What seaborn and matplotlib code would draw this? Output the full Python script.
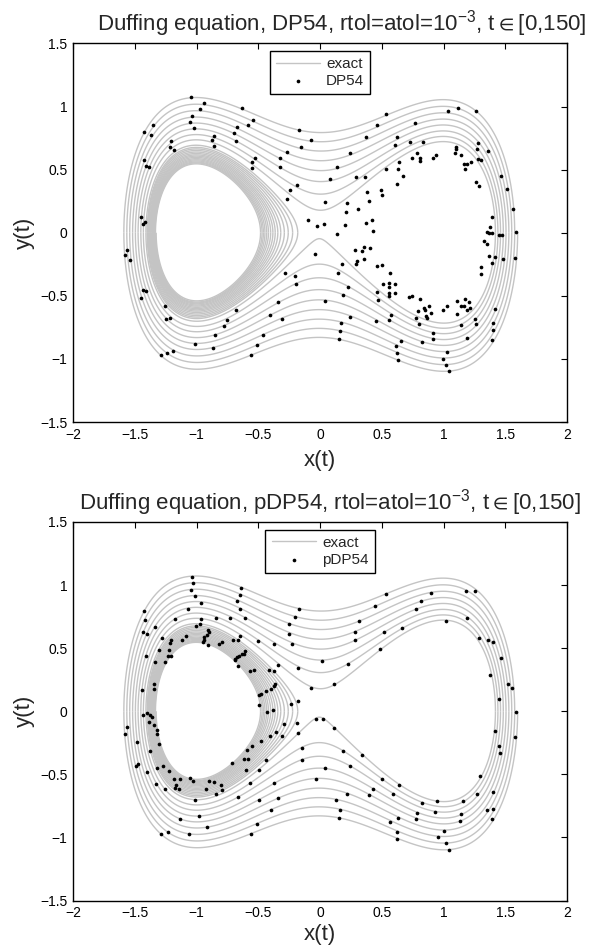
import numpy as np
import matplotlib
matplotlib.use('Agg')
import matplotlib.pyplot as plt
import seaborn as sns

# energy H = y^2/2 - x^2/2 + x^4/4 of each half-pass of the exact trajectory,
# read from where the pass crosses x=0 (x=-1 inside the left well), in time order
lower_levels = [0.344, 0.287, 0.234, 0.185, 0.141, 0.102, 0.063, 0.0305, 0.0013,
                -0.018, -0.026, -0.034, -0.042, -0.050, -0.057, -0.063, -0.069,
                -0.075, -0.081, -0.086, -0.091, -0.095, -0.099, -0.104]
upper_levels = [0.315, 0.26, 0.21, 0.163, 0.121, 0.082, 0.047, 0.016,
                -0.014, -0.022, -0.030, -0.038, -0.046, -0.053, -0.060, -0.066,
                -0.072, -0.078, -0.083, -0.088, -0.093, -0.097, -0.101]

# DP54 output points (top panel)
dp54_x = [-1.041, -0.941, -0.968, -0.635, -1.351, -1.424, -1.365, -1.038, -1.051, -1.019,
          -0.546, -0.586, -0.697, -0.676, -0.681, -0.168, -0.073, -0.151, -1.203, -1.211,
          -1.186, -0.876, -0.862, -0.862, -1.427, -1.411, -1.386, -0.527, -0.554, -0.554,
          -0.270, -0.322, -0.322, -0.186, -0.240, -0.268, -1.451, -1.419, -1.435, -0.095,
          -0.024,
          0.538, 0.459, 0.370, 0.243, 0.135, 0.081, 0.038, 0.035, 0.140, 0.200,
          0.216, 0.211, 0.289, 0.365, 0.311, 0.384, 0.400, 0.370, 0.421, 0.432,
          0.492, 0.505, 0.538, 0.624, 0.635, 0.638, 0.670, 0.610, 0.627, 0.732,
          0.770, 0.743, 0.789, 0.808, 0.810, 0.832, 0.913, 0.940, 1.037, 1.116,
          1.259, 1.089, 1.100, 1.102, 1.140, 1.164, 1.194, 1.175, 1.224, 1.280,
          1.272, 1.278, 1.307, 1.361, 1.259, 1.291, 1.467, 1.515, 1.559, 1.391,
          1.378, 1.351, 1.372, 1.391, 1.448, 1.470, 1.586,
          -1.583, -1.561, -1.537, -1.437, -1.410, -1.451, -1.259, -1.251, -1.213, -1.286,
          -1.240, -1.189, -1.016, -0.867, -0.851, -0.781, -0.751, -0.678, -0.559, -0.513,
          -0.459, -0.405, -0.338, -0.305, -0.284, -0.205, -0.194, -0.040,
          0.281, 0.354, 0.340, 0.405, 0.359, 0.300, 0.289, 0.176, 0.149, 0.038,
          0.224, 0.186, 0.246, 0.173, 0.165, 0.151, 0.465, 0.502, 0.565, 0.508,
          0.562, 0.562, 0.610, 0.465, 0.562, 0.605, 0.562, 0.470, 0.457, 0.562,
          0.573, 0.659, 0.616, 0.621, 0.629, 0.719, 0.746, 0.813, 0.797, 0.840,
          0.848, 0.883, 0.897, 0.862, 0.864, 0.781, 0.802, 0.829, 0.916, 0.918,
          0.999, 1.026, 0.997, 1.026, 1.021, 1.048, 1.108, 1.108, 1.140, 1.143,
          1.164, 1.175, 1.189, 1.210, 1.218, 1.194, 1.251, 1.267, 1.302, 1.302,
          1.326, 1.356, 1.370, 1.394, 1.418, 1.483, 1.578, 1.413, 1.397, 1.399,
          1.394]
dp54_y = [1.072, 1.025, 0.977, 0.985, 0.853, 0.800, 0.771, 0.922, 0.874, 0.827,
          0.890, 0.853, 0.792, 0.835, 0.729, 0.814, 0.737, 0.679, 0.729, 0.681,
          0.658, 0.737, 0.763, 0.689, 0.576, 0.526, 0.518, 0.592, 0.563, 0.512,
          0.639, 0.589, 0.518, 0.380, 0.335, 0.264, 0.121, 0.085, 0.069, 0.103,
          0.055,
          0.943, 0.853, 0.755, 0.629, 0.518, 0.423, 0.243, 0.071, -0.011, 0.058,
          0.232, 0.164, 0.444, 0.438, 0.190, 0.322, 0.251, 0.079, 0.098, 0.013,
          0.338, 0.301, 0.507, 0.386, 0.507, 0.560, 0.449, 0.692, 0.755, 0.716,
          0.866, 0.589, 0.629, 0.589, 0.568, 0.716, 0.589, 0.615, 0.961, 0.990,
          0.964, 0.629, 0.681, 0.660, 0.615, 0.544, 0.544, 0.502, 0.563, 0.708,
          0.666, 0.581, 0.573, 0.650, 0.399, 0.372, 0.449, 0.346, 0.190, 0.127,
          0.045, 0.003, -0.005, 0.000, -0.021, -0.018, 0.003,
          -0.179, -0.134, -0.214, -0.451, -0.459, -0.515, -0.583, -0.681, -0.676, -0.972,
          -0.956, -0.935, -0.879, -0.914, -0.811, -0.742, -0.689, -0.610, -0.966, -0.893,
          -0.813, -0.655, -0.552, -0.681, -0.317, -0.343, -0.409, -0.171,
          -0.137, -0.113, -0.148, -0.121, -0.211, -0.224, -0.251, -0.248, -0.322, -0.539,
          -0.433, -0.496, -0.671, -0.716, -0.779, -0.842, -0.264, -0.259, -0.317, -0.409,
          -0.401, -0.428, -0.409, -0.473, -0.481, -0.478, -0.502, -0.533, -0.697, -0.694,
          -0.650, -0.858, -0.895, -0.953, -1.009, -0.512, -0.499, -0.523, -0.618, -0.594,
          -0.613, -0.581, -0.639, -0.660, -0.679, -0.679, -0.726, -0.866, -0.795, -0.840,
          -0.610, -0.584, -1.002, -0.948, -1.046, -1.093, -0.544, -0.642, -0.734, -0.584,
          -0.584, -0.526, -0.610, -0.552, -0.599, -0.837, -0.684, -0.724, -0.269, -0.327,
          -0.063, -0.092, -0.182, -0.243, -0.193, -0.208, -0.198, -0.607, -0.716, -0.774,
          -0.850]

# pDP54 output points (bottom panel)
pdp54_x = [-1.040, -1.029, -1.045, -1.013, -1.067, -0.962, -0.637, -0.646, -0.670, -0.648,
           -0.608, -0.727, -0.840, -0.967, -0.972, -1.002, -1.175, -1.424, -1.418, -1.432,
           -1.402, -1.337, -1.408, -1.280, -1.307, -1.337, -1.253, -1.210, -1.213, -1.221,
           -1.229, -1.210, -1.089, -1.116, -0.908, -0.900, -0.916, -0.940, -0.937, -0.951,
           -0.905, -0.821, -0.794, -0.702, -0.664, -0.646, -0.505, -0.370, -0.608, -0.616,
           -0.629, -0.656, -0.675, -0.691, -0.689, -0.662, -0.570, -0.532, -0.416, -0.375,
           -0.338, -0.365, -0.375, -0.400, -0.440, -0.478, -0.494, -0.249, -0.251, -0.224,
           -0.200, -0.167, -0.176, -0.076, -1.442, -1.343, -1.345,
           -0.494, -0.427, -0.378, -0.232, -0.181, -0.035, -0.184, -0.176, -0.292, -0.305,
           -0.359, -0.405, -0.481, -0.554, -0.592, -0.581, -0.616, -0.713, -0.597, -0.494,
           -0.440, -0.567, -0.667, -1.580, -1.559, -1.432, -1.399, -1.378, -1.364, -1.386,
           -1.343, -1.318, -1.321, -1.302, -1.375, -1.480, -1.491, -1.470, -1.399, -1.316,
           -1.272, -1.221, -1.324, -1.256, -1.180, -1.135, -1.164, -1.175, -1.143, -1.056,
           -1.029, -1.016, -0.927, -0.902, -0.859, -0.840, -0.800, -0.797, -1.132, -0.981,
           -0.916, -1.289, -1.234, -1.064, -0.562, -0.508, -0.494, -0.400, -0.338, -0.370,
           -0.146, -0.146, -0.032,
           0.538, 0.448, 0.316, 0.281, 0.284, 0.516, 0.486, 0.665, 0.781, 0.816,
           0.902, 1.021, 1.178, 1.253, 1.191, 1.289, 1.361, 1.399, 1.464, 1.375,
           1.526, 1.553, 1.448, 0.224, 0.019, 0.111,
           1.586, 1.418, 1.448, 1.461, 1.578, 0.022, 0.113, 0.186, 0.338, 0.038,
           0.246, 0.500, 0.640, 0.427, 0.219, 0.397, 0.589, 0.127, 0.165, 0.151,
           0.570, 0.632, 0.621, 0.627, 0.827, 0.948, 0.786, 0.929, 0.775, 1.002,
           0.959, 1.018, 1.048, 1.159, 1.140, 1.137, 1.275, 1.294, 1.397, 1.356,
           1.397, 1.394]
pdp54_y = [1.067, 1.014, 0.961, 0.911, 0.814, 0.861, 0.975, 0.922, 0.877, 0.814,
           0.737, 0.742, 0.742, 0.732, 0.695, 0.676, 0.732, 0.795, 0.726, 0.626,
           0.615, 0.666, 0.436, 0.584, 0.483, 0.391, 0.388, 0.563, 0.544, 0.489,
           0.438, 0.436, 0.597, 0.563, 0.642, 0.626, 0.608, 0.589, 0.563, 0.549,
           0.523, 0.536, 0.549, 0.568, 0.563, 0.597, 0.557, 0.534, 0.478, 0.457,
           0.452, 0.438, 0.431, 0.415, 0.404, 0.359, 0.322, 0.328, 0.325, 0.317,
           0.365, 0.217, 0.201, 0.174, 0.158, 0.140, 0.127, 0.689, 0.615, 0.531,
           0.745, 0.808, 0.346, 0.185, 0.172, 0.174, 0.219,
           0.053, -0.003, 0.013, 0.058, 0.079, -0.058, -0.090, -0.174, -0.098, -0.195,
           -0.164, -0.193, -0.232, -0.272, -0.306, -0.380, -0.375, -0.409, -0.468, -0.462,
           -0.388, -0.568, -0.681, -0.182, -0.124, -0.026, -0.011, -0.026, -0.045, -0.087,
           -0.108, -0.151, -0.182, -0.261, -0.312, -0.246, -0.436, -0.417, -0.481, -0.446,
           -0.438, -0.475, -0.578, -0.618, -0.539, -0.539, -0.581, -0.605, -0.618, -0.531,
           -0.549, -0.705, -0.613, -0.549, -0.563, -0.658, -0.581, -0.621, -0.856, -0.829,
           -0.919, -0.975, -0.959, -0.975, -0.972, -0.890, -0.700, -0.779, -0.687, -0.568,
           -0.288, -0.383, -0.534,
           0.930, 0.832, 0.713, 0.629, 0.563, 0.629, 0.491, 0.660, 0.811, 0.872,
           0.940, 0.716, 0.951, 0.956, 0.737, 0.578, 0.563, 0.549, 0.425, 0.291,
           0.219, 0.188, 0.100, 0.375, 0.399, 0.214,
           -0.005, -0.153, -0.275, -0.333, -0.203, -0.061, -0.135, -0.317, -0.346, -0.452,
           -0.438, -0.541, -0.586, -0.618, -0.655, -0.666, -0.658, -0.700, -0.779, -0.845,
           -0.874, -0.843, -0.954, -1.014, -0.726, -0.713, -0.803, -0.795, -0.851, -0.946,
           -0.993, -1.046, -1.099, -0.711, -0.816, -0.866, -0.655, -0.515, -0.639, -0.779,
           -0.777, -0.856]

titles = [r'Duffing equation, DP54, rtol=atol=10$^{-3}$, t$\in$[0,150]',
          r'Duffing equation, pDP54, rtol=atol=10$^{-3}$, t$\in$[0,150]']
method_names = ['DP54', 'pDP54']
title_x = [0.543, 0.52]

line_gray = '#c4c4c4'
xticks = [-2, -1.5, -1, -0.5, 0, 0.5, 1, 1.5, 2]
yticks = [-1.5, -1, -0.5, 0, 0.5, 1, 1.5]

# half-passes in time order: lower, upper, lower, ...
pass_levels = []
for i in range(len(lower_levels)):
    pass_levels.append(lower_levels[i])
    if i < len(upper_levels):
        pass_levels.append(upper_levels[i])

# energy where consecutive passes meet on y=0
junctions = ([pass_levels[0] + (pass_levels[0] - pass_levels[1]) / 2]
             + [(a + b) / 2 for a, b in zip(pass_levels[:-1], pass_levels[1:])]
             + [pass_levels[-1] - (pass_levels[-2] - pass_levels[-1]) / 2])


def outer_x(J):
    return np.sqrt(1 + np.sqrt(1 + 4 * J))


def nose_x(J):
    return np.sqrt(1 - np.sqrt(1 + 4 * J))


grids = {}
for key, xs in (('full', np.linspace(-2, 2, 1400)), ('left', np.linspace(-2, 0, 800))):
    for half, ys in (('up', np.linspace(0, 1.5, 520)), ('down', np.linspace(-1.5, 0, 520))):
        X, Y = np.meshgrid(xs, ys)
        grids[(key, half)] = (X, Y, 0.5 * Y ** 2 - 0.5 * X ** 2 + 0.25 * X ** 4)


def draw_exact(ax):
    # each half-pass is the level set of H with its level sliding linearly in x
    # between the junction energies, so the passes join into one spiral
    for i in range(len(pass_levels)):
        js, je = junctions[i], junctions[i + 1]
        if i % 2 == 0:  # lower pass, moving left
            xs_ = outer_x(js) if js > 0 else -nose_x(js)
            xe_ = -outer_x(je)
            half = 'down'
        else:           # upper pass, moving right
            xs_ = -outer_x(js)
            xe_ = outer_x(je) if je > 0 else -nose_x(je)
            half = 'up'
        key = 'full' if max(xs_, xe_) > 0 else 'left'
        X, Y, H = grids[(key, half)]
        lev = js + (je - js) * (X - xs_) / (xe_ - xs_)
        ax.contour(X, Y, H - lev, levels=[0], colors=[line_gray], linewidths=1.0,
                   linestyles='solid')


sns.set_style('white')
plt.rcParams['font.family'] = ['Liberation Sans', 'DejaVu Sans']
plt.rcParams['mathtext.default'] = 'regular'
plt.rcParams['mathtext.fontset'] = 'custom'
plt.rcParams['mathtext.rm'] = 'Liberation Sans'

fig = plt.figure(figsize=(5.93, 9.49), dpi=100)
ax_top = fig.add_axes([0.1231, 0.5553, 0.8331, 0.3989])
ax_bot = fig.add_axes([0.1231, 0.0511, 0.8331, 0.3989])

for ax, px, py, name, title, tx, lp in zip([ax_top, ax_bot], [dp54_x, pdp54_x],
                                           [dp54_y, pdp54_y], method_names, titles,
                                           title_x, [6, 3]):
    draw_exact(ax)
    ax.plot([], [], color=line_gray, lw=1.0, label='exact')
    sns.scatterplot(x=px, y=py, ax=ax, color='black', s=7, linewidth=0,
                    marker='o', label=name, zorder=3)

    ax.set_xlim(-2, 2)
    ax.set_ylim(-1.5, 1.5)
    ax.set_xticks(xticks)
    ax.set_yticks(yticks)
    ax.set_xticklabels([('%g' % v).replace('-', '\u2212') for v in xticks])
    ax.set_yticklabels([('%g' % v).replace('-', '\u2212') for v in yticks])
    ax.tick_params(direction='in', top=True, right=True, length=4, width=0.8,
                   labelsize=10, pad=4, colors='black')
    for sp in ax.spines.values():
        sp.set_color('black')
        sp.set_linewidth(1.0)
    ax.set_xlabel('x(t)', fontsize=16, labelpad=lp)
    ax.set_ylabel('y(t)', fontsize=16, labelpad=4)
    ax.set_title(title, fontsize=16, x=tx, pad=9)

    leg = ax.legend(loc='upper center', bbox_to_anchor=(0.5, 1.0), borderaxespad=0.5,
                    fontsize=11, frameon=True, fancybox=False, framealpha=1,
                    edgecolor='black', handlelength=2.9, handletextpad=0.4,
                    labelspacing=0.2, borderpad=0.4, markerscale=1.0)
    leg.get_frame().set_linewidth(1.0)

fig.savefig('out.png', dpi=100)
